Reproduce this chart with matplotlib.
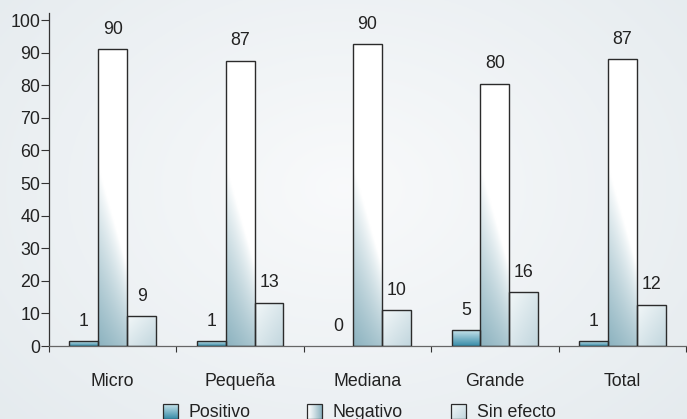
import numpy as np
import matplotlib
matplotlib.use("Agg")
import matplotlib.pyplot as plt
from matplotlib.patches import Rectangle

plt.rcParams['font.family'] = ['Liberation Sans', 'DejaVu Sans']

categories = ["Micro", "Pequeña", "Mediana", "Grande", "Total"]
series_names = ["Positivo", "Negativo", "Sin efecto"]
positivo = [1.5, 1.5, 0.0, 4.8, 1.5]
negativo = [91.0, 87.5, 92.5, 80.5, 88.0]
sin_efecto = [9.1, 13.2, 11.0, 16.5, 12.6]
lab_positivo = ["1", "1", "0", "5", "1"]
lab_negativo = ["90", "87", "90", "80", "87"]
lab_sin_efecto = ["9", "13", "10", "16", "12"]
yticks = [0, 10, 20, 30, 40, 50, 60, 70, 80, 90, 100]

FS = 12.8
W, H = 687, 419
fig = plt.figure(figsize=(W / 100, H / 100), dpi=100)

# background gradient
bg = fig.add_axes([0, 0, 1, 1], zorder=-10)
yy, xx = np.mgrid[0:1:200j, 0:1:300j]
d = np.sqrt(((xx - 0.5) / 0.75) ** 2 + ((yy - 0.45) / 0.9) ** 2)
d = np.clip(d, 0, 1)
c0 = np.array([0.975, 0.98, 0.985])
c1 = np.array([0.89, 0.915, 0.93])
img = c0[None, None, :] * (1 - d[..., None]) + c1[None, None, :] * d[..., None]
bg.imshow(img, extent=[0, 1, 0, 1], aspect='auto', origin='upper')
bg.axis('off')

ax = fig.add_axes([49 / W, 1 - 346 / H, (686 - 49) / W, (346 - 13.5) / H])
ax.set_facecolor('none')
XMAX, YMAX = 5, 102
ax.set_xlim(0, XMAX)
ax.set_ylim(0, YMAX)
px_y = (346 - 13.5) / YMAX


def img_pos(nx, ny):
    v = np.linspace(1, 0, ny)[:, None] * np.ones((1, nx))
    col_top = np.array([0.78, 0.89, 0.92])
    col_bot = np.array([0.22, 0.55, 0.66])
    return col_bot * (1 - v[..., None]) + col_top * v[..., None]


def img_neg(nx, ny, hpx):
    u = np.linspace(0, 1, nx)[None, :] * np.ones((ny, 1))
    v = np.linspace(hpx, 0, ny)[:, None] * np.ones((1, nx))
    b = 180 * (1 - 0.55 * u)
    t = np.clip(1 - v / b, 0, 1) ** 0.9
    t = t * (0.75 + 0.25 * (1 - u))
    white = np.array([1.0, 1.0, 1.0])
    dark = np.array([0.55, 0.70, 0.75])
    return white * (1 - t[..., None]) + dark * t[..., None]


def img_sin(nx, ny):
    u = np.linspace(0, 1, nx)[None, :] * np.ones((ny, 1))
    v = np.linspace(0, 1, ny)[:, None] * np.ones((1, nx))
    t = np.clip(0.5 * u + 0.5 * v, 0, 1)
    c_a = np.array([0.95, 0.97, 0.975])
    c_b = np.array([0.76, 0.84, 0.87])
    return c_a * (1 - t[..., None]) + c_b * t[..., None]


bw = 0.227
edge = '#2b2b2b'
all_vals = [positivo, negativo, sin_efecto]
all_labs = [lab_positivo, lab_negativo, lab_sin_efecto]
for s in range(3):
    for i, v in enumerate(all_vals[s]):
        x0 = i + 0.5 + (s - 1.5) * bw
        if v > 0:
            hpx = v * px_y
            if s == 0:
                im = img_pos(20, 40)
            elif s == 1:
                im = img_neg(40, 300, hpx)
            else:
                im = img_sin(40, 60)
            rect = Rectangle((x0, 0), bw, v, facecolor='none', edgecolor=edge, linewidth=1.0, zorder=3)
            ax.add_patch(rect)
            ii = ax.imshow(im, extent=[x0, x0 + bw, 0, v], aspect='auto', origin='upper', zorder=2,
                           interpolation='bilinear')
            ii.set_clip_path(rect)
        ax.annotate(all_labs[s][i], (x0 + bw / 2, v), xytext=(0, 20), textcoords='offset pixels',
                    ha='center', va='center', fontsize=FS, color='#222222')

ax.set_xlim(0, XMAX)
ax.set_ylim(0, YMAX)

for sp in ['top', 'right']:
    ax.spines[sp].set_visible(False)
ax.spines['left'].set_color('#333333')
ax.spines['left'].set_linewidth(0.9)
ax.spines['bottom'].set_color('#666666')
ax.spines['bottom'].set_linewidth(0.9)

ax.set_yticks(yticks)
ax.set_yticklabels([str(t) for t in yticks])
ax.tick_params(axis='y', length=5.8, width=0.8, pad=0.5, labelsize=FS, color='#333333', labelcolor='#222222')
ax.set_xticks(range(XMAX + 1))
ax.set_xticklabels([''] * (XMAX + 1))
ax.tick_params(axis='x', length=4.3, width=0.8, color='#333333')

for i, c in enumerate(categories):
    ax.text(i + 0.5, -35 / (346 - 13.5), c, transform=ax.get_xaxis_transform(), ha='center', va='center',
            fontsize=FS, color='#222222')

# legend (pixel overlay)
ov = fig.add_axes([0, 0, 1, 1], zorder=5)
ov.set_xlim(0, W)
ov.set_ylim(H, 0)
ov.axis('off')
leg_y = 411
sw = 15
items = [(163, 189, img_pos(10, 20)), (307, 332, None), (451, 477, img_sin(20, 20))]
for k, (px, tx, im) in enumerate(items):
    rect = Rectangle((px, leg_y - sw / 2), sw, sw, facecolor='none', edgecolor=edge, linewidth=0.9, zorder=3)
    ov.add_patch(rect)
    if im is None:
        u = np.linspace(0, 1, 20)[None, :] * np.ones((20, 1))
        t = u ** 1.2
        im = np.array([1, 1, 1.0]) * (1 - t[..., None]) + np.array([0.55, 0.70, 0.75]) * t[..., None]
    ii = ov.imshow(im, extent=[px, px + sw, leg_y + sw / 2, leg_y - sw / 2], aspect='auto', zorder=2)
    ii.set_clip_path(rect)
    ov.text(tx, leg_y + 1, series_names[k], ha='left', va='center', fontsize=FS, color='#222222')
ov.set_xlim(0, W)
ov.set_ylim(H, 0)

fig.savefig('out.png', dpi=100)
